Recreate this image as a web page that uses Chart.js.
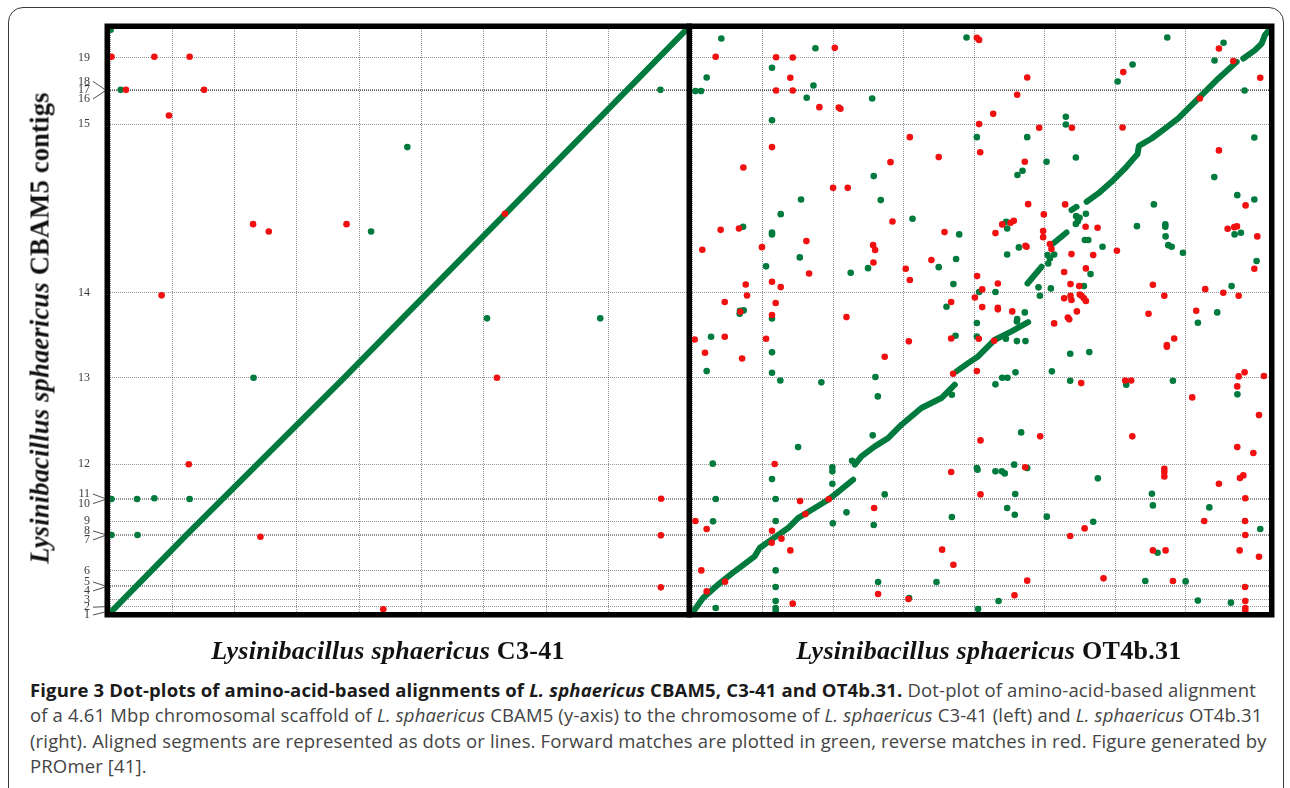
<!DOCTYPE html>
<html>
<head>
<meta charset="utf-8">
<script src="https://cdn.jsdelivr.net/npm/chart.js@4.4.1/dist/chart.umd.min.js"></script>
<style>
  html, body { margin: 0; padding: 0; background: #fff; }
  body { width: 1290px; height: 788px; position: relative; overflow: hidden; }
  #frame { position: absolute; left: 8px; top: 7px; width: 1276px; height: 830px; border: 1.6px solid #3a3a3a; border-radius: 15px; box-sizing: border-box; }
  canvas { position: absolute; top: 0; }
  #left { left: 0; }
  #right { left: 686px; }
  .title { position: absolute; font-family: "Liberation Serif", "DejaVu Serif", serif; font-weight: bold; font-size: 26px; letter-spacing: 0.3px; color: #111; white-space: nowrap; }
  #ytitle { left: 40px; top: 328px; transform: translate(-50%, -50%) rotate(-90deg); font-size: 26.5px; letter-spacing: 0.2px; }
  #xtitle1 { left: 388px; top: 651px; transform: translate(-50%, -50%); }
  #xtitle2 { left: 989px; top: 651px; transform: translate(-50%, -50%); }
  #caption { position: absolute; left: 30px; top: 677px; font-family: "Open Sans", sans-serif; font-size: 18.5px; letter-spacing: 0.15px; line-height: 25.3px; color: #444; white-space: nowrap; }
  #caption b { color: #1b1b1b; }
</style>
</head>
<body>
<div id="frame"></div>
<canvas id="left" width="692" height="640"></canvas>
<canvas id="right" width="604" height="640"></canvas>
<div class="title" id="ytitle"><i>Lysinibacillus sphaericus</i> CBAM5 contigs</div>
<div class="title" id="xtitle1"><i>Lysinibacillus sphaericus</i> C3-41</div>
<div class="title" id="xtitle2"><i>Lysinibacillus sphaericus</i> OT4b.31</div>
<div id="caption"><b>Figure 3 Dot-plots of amino-acid-based alignments of <i>L. sphaericus</i> CBAM5, C3-41 and OT4b.31.</b> Dot-plot of amino-acid-based alignment<br>of a 4.61 Mbp chromosomal scaffold of <i>L. sphaericus</i> CBAM5 (y-axis) to the chromosome of <i>L. sphaericus</i> C3-41 (left) and <i>L. sphaericus</i> OT4b.31<br>(right). Aligned segments are represented as dots or lines. Forward matches are plotted in green, reverse matches in red. Figure generated by<br>PROmer [41].</div>
<script>
// CBAM5 scaffold (y axis, Mbp): where each contig starts
const contigLabels = ['1','2','3','4','5','6','7','8','9','10','11','12','13','14','15','16','17','18','19'];
const contigStarts = [0, 0.042, 0.095, 0.198, 0.206, 0.327, 0.605, 0.613, 0.719, 0.889, 0.897, 1.168, 1.852, 2.524, 3.858, 4.120, 4.126, 4.132, 4.385];
const scaffoldLength = 4.61;
const c341Length = 4.63;
const ot4bLength = 4.09;

// left panel: CBAM5 vs C3-41 (x, y in Mbp)
const leftDiagonal = [[0.008,0],[0.626,0.622],[1.886,1.860],[2.346,2.322],[3.176,3.152],[4.62,4.60]];
const leftForward = [
  [0.005,4.605],[0.086,4.129],[2.386,3.676],[2.095,3.009],[4.417,4.129],[3.025,2.322],[3.934,2.322],
  [1.152,1.852],[0.012,0.893],[0.217,0.893],[0.356,0.899],[0.639,0.893],[0.012,0.609],[0.221,0.609]
];
const leftReverse = [
  [0.012,4.390],[0.356,4.390],[0.639,4.390],[0.128,4.129],[0.755,4.129],[0.473,3.926],[1.148,3.067],
  [1.274,3.009],[1.898,3.067],[3.169,3.149],[0.414,2.504],[3.105,1.852],[0.632,1.168],[4.422,0.896],
  [1.207,0.595],[4.420,0.606],[4.420,0.195],[2.193,0.021]
];

// right panel: CBAM5 vs OT4b.31, main diagonal broken into runs
const rightDiagonal = [
  [[0.007,0],[0.078,0.111],[0.184,0.216],[0.303,0.322],[0.444,0.440],[0.480,0.506],[0.563,0.572],[0.681,0.664],[0.752,0.743],[0.870,0.822],[0.965,0.888],[1.012,0.928],[1.142,1.046]],
  [[1.154,1.165],[1.201,1.231],[1.296,1.310],[1.390,1.375],[1.485,1.481],[1.626,1.613],[1.768,1.692],[1.863,1.797]],
  [[1.875,1.903],[1.957,1.968],[2.028,2.021],[2.147,2.153],[2.265,2.219],[2.383,2.292]],
  [[2.378,2.598],[2.478,2.730]],
  [[2.560,2.914],[2.655,3.001]],
  [[2.690,3.178],[2.726,3.204]],
  [[2.797,3.244],[2.880,3.310],[2.974,3.402],[3.069,3.507],[3.140,3.599],[3.158,3.620],[3.168,3.686],[3.258,3.744],[3.352,3.823],[3.447,3.903],[3.518,3.982],[3.636,4.113],[3.731,4.219],[3.861,4.350]],
  [[3.908,4.377],[3.991,4.443],[4.038,4.495],[4.061,4.561],[4.090,4.601]]
];
const rightForward = [
  [0.208,4.535],[0.875,4.458],[0.567,4.303],[0.104,4.227],[0.024,4.119],[0.064,4.119],[0.861,4.163],[0.813,4.066],
  [1.277,4.061],[1.946,4.543],[0.567,3.889],[2.019,3.755],[1.288,3.447],[0.773,3.262],[1.338,3.257],[0.629,3.146],
  [1.563,3.109],[0.362,3.046],[0.567,3.001],[0.567,2.986],[1.894,2.986],[0.764,2.804],[1.872,2.791],[1.749,2.727],
  [0.525,2.733],[1.248,2.719],[1.125,2.682],[1.853,2.593],[2.035,2.530],[1.804,2.414],[0.340,2.382],[0.366,2.385],
  [0.338,2.358],[0.567,2.321],
  [3.369,4.543],[3.768,4.501],[3.704,4.361],[3.123,4.329],[3.017,4.195],[3.917,4.124],[2.650,3.916],[2.650,3.855],
  [2.376,3.755],[3.986,3.752],[2.721,3.594],[2.513,3.560],[2.343,3.489],[2.307,3.455],[3.702,3.439],[3.865,3.296],
  [3.986,3.262],[3.274,3.223],[2.792,3.149],[2.723,3.130],[2.735,3.090],[2.721,3.069],[2.747,3.117],[3.154,3.051],
  [3.355,3.065],[3.355,3.046],[3.357,2.970],[3.376,2.901],[3.400,2.888],[3.480,2.841],[3.846,2.986],[3.891,2.999],
  [2.227,3.086],[2.234,3.033],[2.317,2.883],[2.234,2.827],[2.520,2.822],[2.537,2.796],[2.525,2.756],[2.567,2.827],
  [2.910,2.888],[2.785,2.941],[2.809,2.941],[2.825,2.672],[2.778,2.577],[2.456,2.567],[2.544,2.559],[2.466,2.501],
  [3.825,2.577],[3.723,2.369],[4.002,2.775],[2.151,2.530],[2.359,2.369],[2.305,2.316],
  [0.135,2.177],[0.104,1.905],[0.567,2.053],[0.567,1.892],[0.626,1.831],[0.917,1.816],[1.868,2.184],[2.019,2.285],
  [2.019,2.179],[1.300,1.858],[1.317,1.705],[1.842,1.718],[1.281,1.397],[0.752,1.304],[0.147,1.173],[0.567,1.051],
  [0.995,1.144],[0.995,1.112],[0.995,1.014],[1.135,1.196],[2.019,1.138],[2.024,1.125],[1.366,0.930],[0.168,0.893],
  [0.593,0.893],[1.095,0.788],[0.149,0.717],[0.593,0.719],[0.998,0.701],[1.288,0.688],[1.842,0.751],[0.593,0.329],
  [0.593,0.198],[1.319,0.237],[1.733,0.237],[1.539,0.111],[0.593,0.087],[0.593,0.032],[0.593,0.005],[0.168,0.032],
  [2.028,0.024],
  [2.303,2.298],[2.225,2.161],[2.303,2.142],[2.364,2.142],[2.681,2.042],[2.816,2.055],[2.293,1.895],[2.551,1.903],
  [2.199,1.852],[2.236,1.852],[2.151,1.800],[2.681,1.829],[3.586,2.287],[3.078,1.797],[3.409,1.829],[3.866,1.721],
  [2.333,1.420],[2.151,1.112],[2.196,1.112],[2.217,1.096],[2.284,1.165],[2.376,1.138],[2.877,1.057],[2.291,0.933],
  [3.260,0.935],[3.267,0.843],[3.667,0.827],[2.234,0.822],[2.288,0.769],[2.515,0.754],[2.844,0.714],[4.028,0.656],
  [3.300,0.469],[3.213,0.245],[3.499,0.242],[2.173,0.087],[3.586,0.090],[3.820,0.074]
];
const rightReverse = [
  [0.168,4.390],[1.012,4.461],[0.596,4.387],[0.714,4.385],[0.697,4.224],[0.596,4.124],[0.714,4.124],[0.903,3.992],
  [1.040,3.989],[1.052,3.979],[2.019,4.540],[2.035,4.524],[2.035,3.858],[2.043,3.636],[1.544,3.755],[0.567,3.676],
  [1.749,3.597],[1.407,3.557],[0.364,3.515],[1.000,3.354],[1.104,3.354],[1.421,3.088],[0.203,3.022],[0.333,3.033],
  [1.790,3.004],[0.073,2.864],[0.496,2.885],[0.811,2.933],[1.284,2.901],[1.298,2.862],[1.697,2.783],[1.286,2.764],
  [1.515,2.714],[1.544,2.625],[0.830,2.677],[0.381,2.590],[0.567,2.611],[0.629,2.569],[2.021,2.656],[0.390,2.503],
  [0.232,2.451],[0.593,2.443],[2.057,2.551],[2.005,2.487],[1.837,2.451],[0.343,2.374],[0.567,2.348],[1.095,2.332],
  [3.735,4.456],[3.837,4.356],[3.057,4.269],[2.376,4.227],[2.305,4.090],[2.135,3.939],[4.028,4.224],[3.600,4.061],
  [2.693,3.829],[2.461,3.829],[3.052,3.831],[3.735,3.650],[2.359,3.560],[3.924,3.215],[2.383,3.225],[2.645,3.223],
  [2.494,3.144],[2.790,3.046],[2.875,3.038],[3.797,3.030],[3.844,3.043],[3.863,3.049],[4.007,2.970],[2.199,3.065],
  [2.258,3.078],[2.281,3.093],[2.151,2.996],[2.489,3.012],[2.489,2.964],[2.364,2.896],[2.371,2.888],[2.537,2.909],
  [2.548,2.870],[2.690,2.830],[2.844,2.822],[3.012,2.856],[2.638,2.688],[2.792,2.717],[2.683,2.593],[2.745,2.577],
  [2.749,2.511],[2.761,2.501],[2.778,2.480],[2.792,2.459],[2.638,2.480],[2.683,2.501],[2.690,2.467],[2.728,2.377],
  [2.664,2.329],[2.674,2.314],[3.267,2.588],[3.348,2.501],[3.236,2.358],[3.638,2.553],[3.766,2.524],[3.875,2.501],
  [3.574,2.382],[3.986,2.714],[2.168,2.598],[2.057,2.411],[2.168,2.406],[2.168,2.393],[2.270,2.377],
  [0.019,2.155],[0.232,2.177],[0.525,2.161],[0.092,2.050],[0.355,2.005],[1.537,2.140],[1.366,2.018],[1.837,2.163],
  [2.033,2.161],[2.019,1.905],[1.851,1.884],[2.045,1.357],[0.586,1.170],[1.837,1.107],[2.045,0.930],[0.766,0.877],
  [0.969,0.891],[1.291,0.822],[0.804,0.775],[0.024,0.719],[0.104,0.656],[0.567,0.643],[0.634,0.580],[0.565,0.548],
  [0.697,0.487],[1.773,0.493],[1.853,0.374],[0.066,0.329],[0.234,0.240],[0.104,0.163],[1.319,0.142],[1.534,0.103],
  [0.714,0.066],
  [2.567,2.282],[2.142,2.145],[2.759,1.810],[3.366,2.111],[3.366,2.098],[3.418,2.163],[3.071,1.831],[3.113,1.831],
  [3.546,1.697],[3.917,1.895],[3.875,1.863],[3.865,1.784],[4.054,1.866],[4.019,1.557],[2.468,1.389],[3.121,1.389],
  [3.865,1.304],[3.979,1.257],[2.362,1.144],[3.348,1.133],[3.348,1.107],[3.348,1.072],[3.884,1.059],[3.908,1.080],
  [3.735,1.014],[3.922,0.899],[2.783,0.661],[2.681,0.601],[3.631,0.719],[3.920,0.719],[3.922,0.609],[3.267,0.487],
  [3.357,0.487],[3.882,0.487],[4.019,0.437],[2.376,0.248],[2.917,0.266],[3.409,0.245],[3.920,0.198],[2.286,0.132],
  [3.922,0.087],[3.922,0.032],[3.922,0.005]
];

const GREEN = '#007a3d';
const RED = '#f01010';
const GRID = 'rgba(0,0,0,0.42)';

// grouped contigs get their labels pushed apart, with a little connector back to the axis
const labelNudge = { '1': 3, '2': 0.5, '4': 4, '5': -4, '7': 4.5, '8': -3.5, '10': 4, '11': -4.5, '16': 8, '18': -8 };

const panelFrame = {
    id: 'panelFrame',
    afterDraw(chart) {
        const { ctx, chartArea: a } = chart;
        ctx.save();
        ctx.strokeStyle = '#000';
        ctx.lineWidth = 5.5;
        ctx.strokeRect(a.left - 2.75, a.top - 2.75, a.right - a.left + 5.5, a.bottom - a.top + 5.5);
        ctx.restore();
    }
};

const contigLabelPlugin = {
    id: 'contigLabels',
    afterDraw(chart) {
        const ctx = chart.ctx;
        const yScale = chart.scales.y;
        const left = chart.chartArea.left;
        ctx.save();
        ctx.font = '12px "Liberation Serif", serif';
        ctx.fillStyle = '#3c3c3c';
        ctx.strokeStyle = '#3c3c3c';
        ctx.lineWidth = 0.9;
        ctx.textAlign = 'right';
        ctx.textBaseline = 'middle';
        contigStarts.forEach((v, i) => {
            const name = contigLabels[i];
            const gy = yScale.getPixelForValue(v);
            const off = labelNudge[name] || 0;
            ctx.fillText(name, left - 20, gy + off);
            if (name in labelNudge) {
                ctx.beginPath();
                ctx.moveTo(left - 17, gy + off);
                ctx.lineTo(left - 5, gy);
                ctx.stroke();
            }
        });
        ctx.restore();
    }
};

function toPoints(list) {
    return list.map(p => ({ x: p[0], y: p[1] }));
}

function makeDotPlot(canvasId, xMax, diagonalRuns, forward, reverse, padding, extraPlugins) {
    const datasets = [
        { data: toPoints(reverse), backgroundColor: RED, pointRadius: 3.3, borderWidth: 0, order: 0 },
        { data: toPoints(forward), backgroundColor: GREEN, pointRadius: 3.3, borderWidth: 0, order: 1 }
    ];
    diagonalRuns.forEach(run => {
        datasets.push({
            data: toPoints(run), showLine: true, borderColor: GREEN, borderWidth: 6,
            borderCapStyle: 'round', borderJoinStyle: 'round', pointRadius: 0, order: 2
        });
    });
    return new Chart(document.getElementById(canvasId), {
        type: 'scatter',
        data: { datasets: datasets },
        options: {
            responsive: false,
            animation: false,
            events: [],
            layout: { padding: padding },
            plugins: { legend: { display: false }, tooltip: { enabled: false } },
            scales: {
                x: {
                    type: 'linear', min: 0, max: xMax,
                    ticks: { display: false, stepSize: 0.5 },
                    afterBuildTicks: s => { s.ticks = s.ticks.filter(t => Math.abs(t.value * 2 - Math.round(t.value * 2)) < 1e-6); },
                    grid: { color: GRID, lineWidth: 1, drawTicks: false },
                    border: { display: false, dash: [1, 1] },
                    afterFit: s => { s.height = 0; }
                },
                y: {
                    type: 'linear', min: 0, max: scaffoldLength,
                    ticks: { display: false },
                    afterBuildTicks: s => { s.ticks = contigStarts.map(v => ({ value: v })); },
                    grid: { color: GRID, lineWidth: 1, drawTicks: false },
                    border: { display: false, dash: [1, 1] },
                    afterFit: s => { s.width = 0; }
                }
            }
        },
        plugins: [panelFrame].concat(extraPlugins)
    });
}

makeDotPlot('left', c341Length, [leftDiagonal], leftForward, leftReverse,
    { left: 110, right: 5, top: 29, bottom: 28 }, [contigLabelPlugin]);
makeDotPlot('right', ot4bLength, rightDiagonal, rightForward, rightReverse,
    { left: 6, right: 21, top: 29, bottom: 28 }, []);
</script>
</body>
</html>
